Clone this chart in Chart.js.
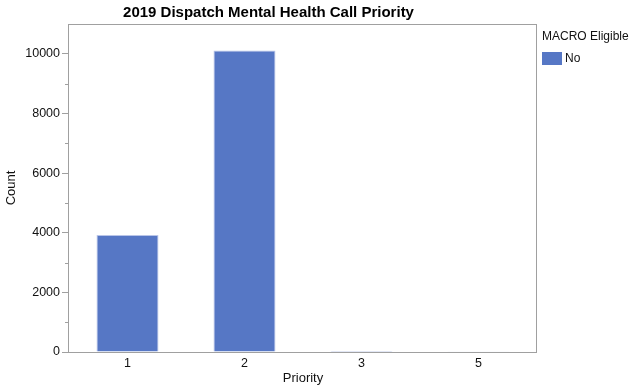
<!DOCTYPE html>
<html>
<head>
<meta charset="utf-8">
<script src="https://cdn.jsdelivr.net/npm/chart.js@4"></script>
<style>
html, body { margin: 0; padding: 0; background: #fff; }
</style>
</head>
<body>
<canvas id="priorityChart" width="634" height="390"></canvas>
<script>
// data
var chartTitle = '2019 Dispatch Mental Health Call Priority';
var priorities = ['1', '2', '3', '5'];
var counts = [3925, 10110, 30, 25];
var seriesName = 'No';
var legendTitle = 'MACRO Eligible';
var yTicks = [0, 2000, 4000, 6000, 8000, 10000];
var yMinorTicks = [1000, 3000, 5000, 7000, 9000];

Chart.defaults.font.family = '"Liberation Sans", Arial, Helvetica, sans-serif';
Chart.defaults.color = '#111';

var frameColor = '#a0a0a0';

// title, frame, minor ticks and legend
var decorations = {
  id: 'decorations',
  afterDraw: function (chart) {
    var ctx = chart.ctx;
    var a = chart.chartArea;
    var y = chart.scales.y;
    ctx.save();

    // frame round the plot
    ctx.strokeStyle = frameColor;
    ctx.lineWidth = 1;
    ctx.strokeRect(a.left - 0.5, a.top + 0.5, a.right - a.left, a.bottom - a.top);

    // minor ticks
    yMinorTicks.forEach(function (v) {
      var py = Math.round(y.getPixelForValue(v)) + 0.5;
      ctx.beginPath();
      ctx.moveTo(a.left - 4, py);
      ctx.lineTo(a.left, py);
      ctx.stroke();
    });

    // title
    ctx.fillStyle = '#000';
    ctx.font = 'bold 15px "Liberation Sans", Arial, sans-serif';
    ctx.textAlign = 'center';
    ctx.textBaseline = 'middle';
    ctx.fillText(chartTitle, a.right / 2, 13);

    // legend
    var ds = chart.data.datasets[0];
    var lx = a.right + 5;
    ctx.textAlign = 'left';
    ctx.font = '12px "Liberation Sans", Arial, sans-serif';
    ctx.fillStyle = '#111';
    ctx.fillText(legendTitle, lx, 37);
    ctx.fillStyle = ds.backgroundColor;
    ctx.fillRect(lx, 52, 20, 13);
    ctx.fillStyle = '#111';
    ctx.fillText(ds.label, lx + 23, 59);

    ctx.restore();
  }
};

var ctx = document.getElementById('priorityChart').getContext('2d');
var chart = new Chart(ctx, {
  type: 'bar',
  data: {
    labels: priorities,
    datasets: [{
      label: seriesName,
      data: counts,
      backgroundColor: '#5677c5',
      borderColor: '#b9c5e8',
      borderWidth: 1,
      barPercentage: 0.53,
      categoryPercentage: 1
    }]
  },
  options: {
    responsive: false,
    animation: false,
    layout: { padding: { left: 0, top: 24, right: 97, bottom: 0 } },
    plugins: {
      legend: { display: false },
      title: { display: false },
      tooltip: { enabled: false }
    },
    scales: {
      x: {
        grid: { display: false, drawTicks: false },
        border: { display: false },
        ticks: { padding: 4, font: { size: 12.5 }, color: '#111' },
        title: { display: true, text: 'Priority', font: { size: 13 }, color: '#111' },
        afterFit: function (scale) { scale.height = 38; }
      },
      y: {
        min: 0,
        max: 11000,
        afterBuildTicks: function (scale) {
          scale.ticks = yTicks.map(function (v) { return { value: v }; });
        },
        grid: { drawOnChartArea: false, tickLength: 7, color: frameColor },
        border: { display: false },
        ticks: {
          padding: 2,
          font: { size: 12.5 },
          color: '#111',
          callback: function (v) { return String(v); }
        },
        title: { display: true, text: 'Count', font: { size: 13 }, color: '#111' },
        afterFit: function (scale) { scale.width = 69; }
      }
    }
  },
  plugins: [decorations]
});
</script>
</body>
</html>
